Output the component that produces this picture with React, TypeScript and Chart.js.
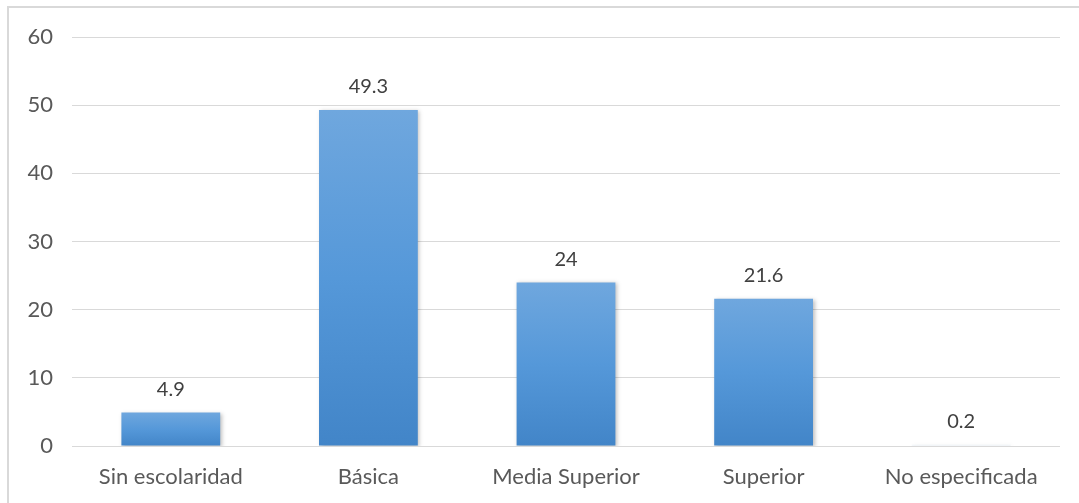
import React, { useEffect, useRef } from "react";
import { Chart, registerables } from "chart.js";

Chart.register(...registerables);

const categories = ["Sin escolaridad", "Básica", "Media Superior", "Superior", "No especificada"];
const values = [4.9, 49.3, 24, 21.6, 0.2];
const yTicks = [0, 10, 20, 30, 40, 50, 60];

const FONT = "Lato, 'Open Sans', sans-serif";
const TEXT = "#595959";

const labelPlugin = {
  id: "valueLabels",
  beforeDatasetsDraw(chart: any) {
    const ctx = chart.ctx;
    ctx.save();
    ctx.shadowColor = "rgba(0,0,0,0.25)";
    ctx.shadowBlur = 4;
    ctx.shadowOffsetX = 1.5;
    ctx.shadowOffsetY = 1;
  },
  afterDatasetsDraw(chart: any) {
    const ctx = chart.ctx;
    ctx.restore();
    const meta = chart.getDatasetMeta(0);
    ctx.save();
    ctx.font = `20px ${FONT}`;
    ctx.fillStyle = "#404040";
    ctx.textAlign = "center";
    ctx.textBaseline = "middle";
    meta.data.forEach((bar: any, i: number) => {
      ctx.fillText(String(values[i]), bar.x, bar.y - 23);
    });
    ctx.restore();
  },
};

export default function App() {
  const ref = useRef<HTMLCanvasElement | null>(null);
  useEffect(() => {
    if (!ref.current) return;
    const chart = new Chart(ref.current, {
      type: "bar",
      data: {
        labels: categories,
        datasets: [
          {
            data: values,
            backgroundColor: (c: any) => {
              const ch = c.chart;
              const ys = ch.scales?.y;
              if (!ys || c.dataIndex === undefined) return "#5596d6";
              const top = ys.getPixelForValue(values[c.dataIndex]);
              const bot = ys.getPixelForValue(0);
              if (!isFinite(top) || !isFinite(bot) || bot - top < 3) return "rgba(220,230,240,0.6)";
              const g = ch.ctx.createLinearGradient(0, top, 0, bot);
              g.addColorStop(0, "#6fa7de");
              g.addColorStop(0.5, "#5598d9");
              g.addColorStop(1, "#4285c8");
              return g;
            },
            borderWidth: 0,
            categoryPercentage: 1,
            barPercentage: 0.5,
          },
        ],
      },
      options: {
        animation: false,
        responsive: true,
        maintainAspectRatio: false,
        layout: { padding: { top: 37, right: 19, bottom: 0, left: 0 } },
        plugins: { legend: { display: false }, tooltip: { enabled: false }, title: { display: false } },
        scales: {
          x: {
            grid: { display: false, drawTicks: false },
            border: { display: false },
            ticks: { color: TEXT, font: { family: FONT, size: 22 }, padding: 18, maxRotation: 0 },
            afterFit: (s: any) => {
              s.height = 57;
            },
          },
          y: {
            min: 0,
            max: 60,
            afterBuildTicks: (s: any) => {
              s.ticks = yTicks.map((v) => ({ value: v }));
            },
            grid: { color: "#d9d9d9", lineWidth: 1, drawTicks: false },
            border: { display: false },
            ticks: { color: TEXT, font: { family: FONT, size: 22 }, padding: 19 },
            afterFit: (s: any) => {
              s.width = 72;
            },
          },
        },
      },
      plugins: [labelPlugin],
    });
    return () => chart.destroy();
  }, []);

  return (
    <div style={{ position: "fixed", left: 0, top: 0, width: 1079, height: 503, background: "#fff" }}>
      <div
        style={{
          position: "absolute",
          left: 7,
          top: 6,
          width: 1072,
          height: 497,
          borderTop: "2px solid #d9d9d9",
          borderLeft: "2px solid #d9d9d9",
          boxSizing: "border-box",
        }}
      />
      <div style={{ position: "absolute", left: 0, top: 0, width: 1079, height: 503 }}>
        <canvas ref={ref} />
      </div>
    </div>
  );
}
